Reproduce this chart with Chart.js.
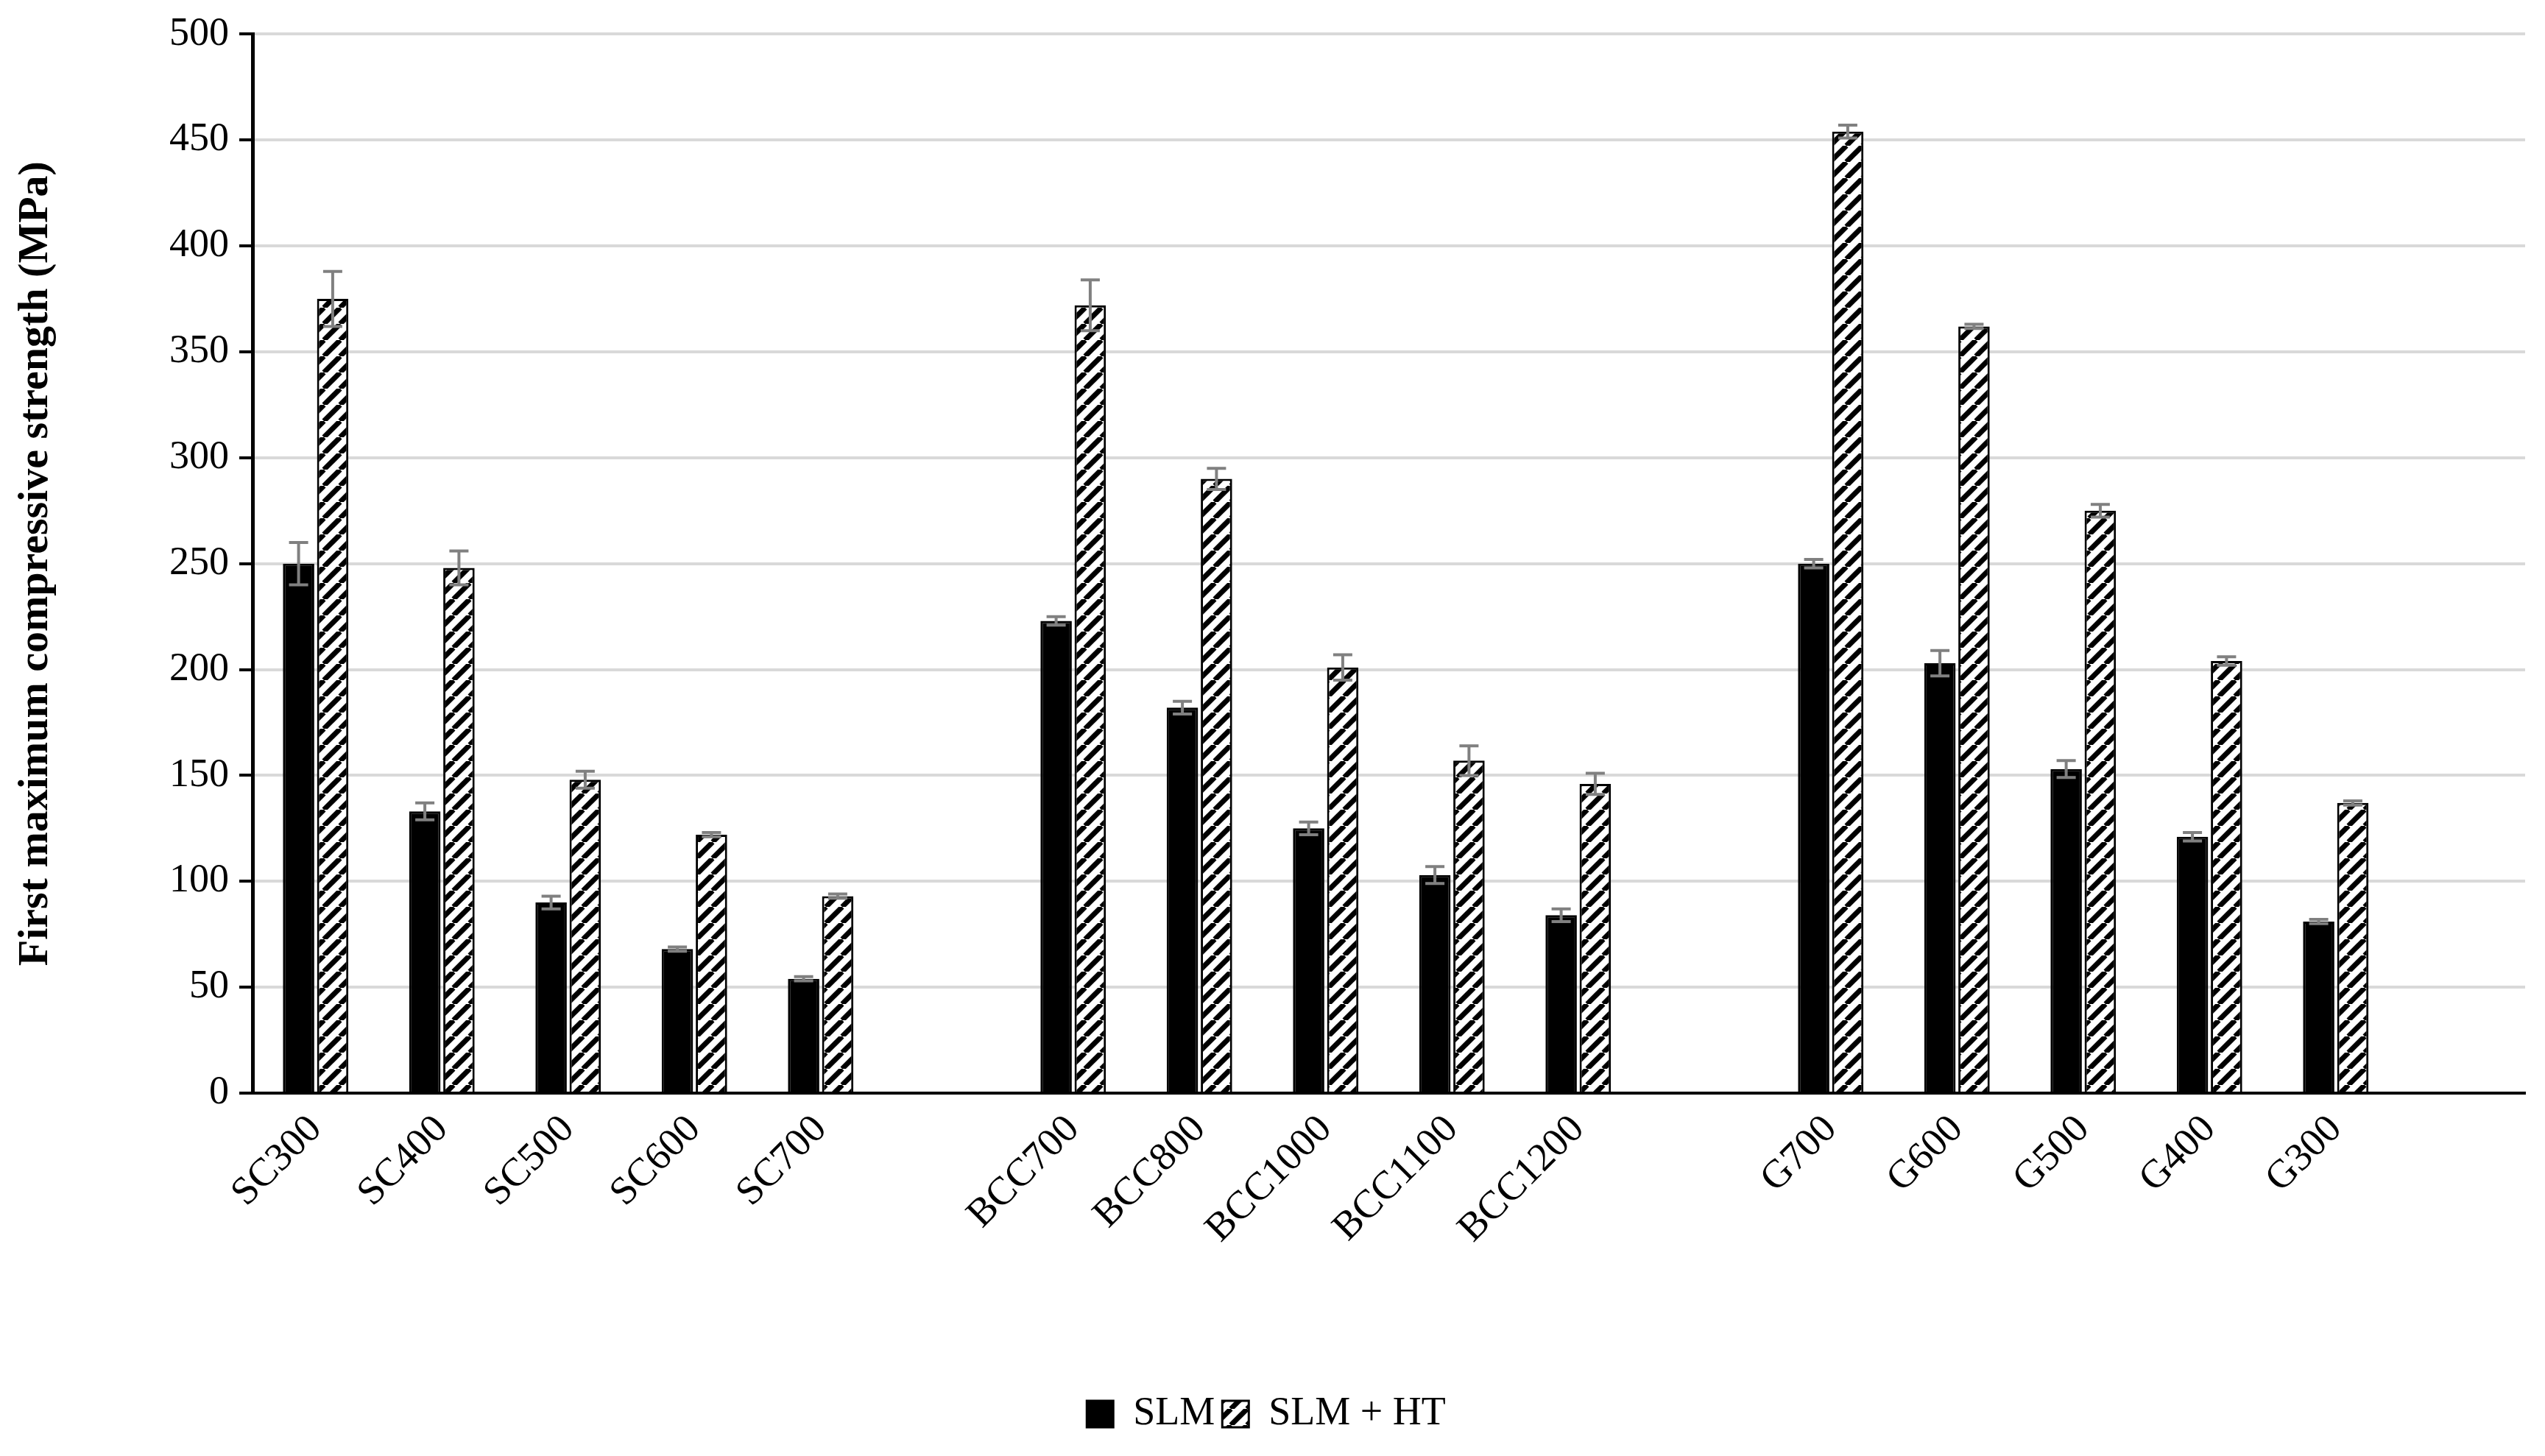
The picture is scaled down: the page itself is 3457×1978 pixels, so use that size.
<!DOCTYPE html>
<html><head><meta charset="utf-8">
<script src="https://cdn.jsdelivr.net/npm/chart.js@4"></script>
<style>html,body{margin:0;padding:0;background:#fff}#w{width:3457px;height:1978px}</style>
</head><body><div id="w"><canvas id="c"></canvas></div>
<script>
const categories = ['SC300','SC400','SC500','SC600','SC700','','BCC700','BCC800','BCC1000','BCC1100','BCC1200','','G700','G600','G500','G400','G300',''];
const slm =    [250,133,90,68,54,null,223,182,125,103,84,null,250,203,153,121,81,null];
const slmErr = [10,4,3,1,1,null,2,3,3,4,3,null,2,6,4,2,1,null];
const ht =     [375,248,148,122,93,null,372,290,201,157,146,null,454,362,275,204,137,null];
const htErr =  [13,8,4,1,1,null,12,5,6,7,5,null,3,1,3,2,1,null];
const yTicks = [0,50,100,150,200,250,300,350,400,450,500];

const pc = document.createElement('canvas'); pc.width = 22; pc.height = 22;
const g = pc.getContext('2d');
g.fillStyle = '#fff'; g.fillRect(0,0,22,22);
g.strokeStyle = '#000'; g.lineWidth = 7;
for (let o = -22; o <= 44; o += 22) { g.beginPath(); g.moveTo(o, 22); g.lineTo(o + 22, 0); g.stroke(); }
const stripes = document.getElementById('c').getContext('2d').createPattern(pc, 'repeat');

const errPlugin = {
  id: 'err',
  afterDatasetsDraw(chart) {
    const ctx = chart.ctx, y = chart.scales.y;
    [slmErr, htErr].forEach((errs, di) => {
      const meta = chart.getDatasetMeta(di);
      const vals = chart.data.datasets[di].data;
      meta.data.forEach((bar, i) => {
        if (vals[i] == null) return;
        const x = bar.x, top = y.getPixelForValue(vals[i] + errs[i]), bot = y.getPixelForValue(vals[i] - errs[i]);
        ctx.save(); ctx.strokeStyle = '#808080'; ctx.lineWidth = 4;
        ctx.beginPath(); ctx.moveTo(x, top); ctx.lineTo(x, bot);
        ctx.moveTo(x - 13, top); ctx.lineTo(x + 13, top);
        ctx.moveTo(x - 13, bot); ctx.lineTo(x + 13, bot); ctx.stroke(); ctx.restore();
      });
    });
  }
};

const font = 'Liberation Serif';
new Chart(document.getElementById('c'), {
  type: 'bar',
  data: { labels: categories, datasets: [
    { label: 'SLM', data: slm, backgroundColor: '#000', borderColor: '#000', borderWidth: 3 },
    { label: 'SLM + HT', data: ht, backgroundColor: stripes, borderColor: '#000', borderWidth: 3 }
  ]},
  options: {
    responsive: true, maintainAspectRatio: false, animation: false, devicePixelRatio: 1,
    datasets: { bar: { categoryPercentage: 0.54, barPercentage: 0.92 } },
    layout: { padding: { top: 40, right: 27, bottom: 20, left: 10 } },
    plugins: {
      legend: { position: 'bottom', labels: { font: { family: font, size: 54 }, color: '#000', boxWidth: 36, boxHeight: 36, padding: 10 } },
      tooltip: { enabled: false }
    },
    scales: {
      x: {
        grid: { display: false },
        border: { color: '#000', width: 4 },
        ticks: { font: { family: font, size: 54 }, color: '#000', minRotation: 45, maxRotation: 45, autoSkip: false, padding: 10 },
        afterFit(s) { s.height = 399; }
      },
      y: {
        min: 0, max: 500,
        afterBuildTicks(s) { s.ticks = yTicks.map(v => ({ value: v })); },
        grid: { color: '#d9d9d9', lineWidth: 4, tickColor: '#000', tickLength: 18, drawTicks: true },
        border: { color: '#000', width: 5 },
        ticks: { font: { family: font, size: 54 }, color: '#000', padding: 14 },
        title: { display: true, text: 'First maximum compressive strength (MPa)', font: { family: font, size: 58, weight: 'bold' }, color: '#000', padding: 4 },
        afterFit(s) { s.width = 333; }
      }
    }
  },
  plugins: [errPlugin]
});
</script></body></html>
